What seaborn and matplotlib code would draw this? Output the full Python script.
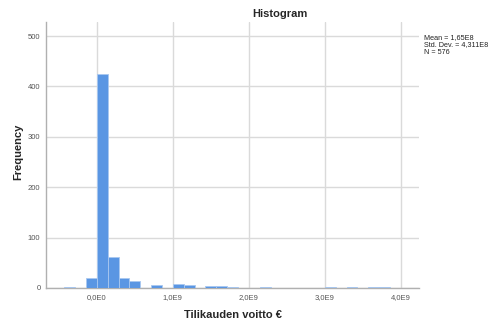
import numpy as np
import pandas as pd
import matplotlib
matplotlib.use("Agg")
import matplotlib.pyplot as plt
import seaborn as sns

# Histogram of annual profit (bin width = 1/7 * 1E9)
bin_index = [-3, -1, 0, 1, 2, 3, 5, 7, 8, 10, 11, 12, 15, 21, 23, 25, 26]
counts = [1, 19, 425, 61, 20, 14, 6, 8, 6, 4, 4, 2, 1, 2, 1, 1, 1]
bin_width = 1e9 / 7
x_ticks = [0, 1e9, 2e9, 3e9, 4e9]
x_tick_labels = ["0,0E0", "1,0E9", "2,0E9", "3,0E9", "4,0E9"]
y_ticks = [0, 100, 200, 300, 400, 500]
stats_text = "Mean = 1,65E8\nStd. Dev. = 4,311E8\nN = 576"

df = pd.DataFrame({
    "center": [(k + 0.5) * bin_width for k in bin_index],
    "count": counts,
})

sns.set_theme(style="white")
plt.rcParams["font.family"] = ["Liberation Sans", "DejaVu Sans"]

fig = plt.figure(figsize=(4.9, 3.24), dpi=100)
ax = fig.add_axes([46 / 490, 1 - 288 / 324, (419 - 46) / 490, (288 - 22) / 324])

sns.histplot(data=df, x="center", weights="count",
             binwidth=bin_width, binrange=(-5 * bin_width, 29 * bin_width),
             ax=ax, color="#5a96e3", alpha=1.0, edgecolor="#a9c8f0",
             linewidth=0.6, zorder=3)

ax.set_xlim(-0.67e9, 4.24e9)
ax.set_ylim(0, 528)
ax.set_xticks(x_ticks)
ax.set_xticklabels(x_tick_labels)
ax.set_yticks(y_ticks)
ax.grid(True, color="#dadada", linewidth=1.0, zorder=0)
ax.set_axisbelow(True)
for side in ["top", "right"]:
    ax.spines[side].set_visible(False)
for side in ["left", "bottom"]:
    ax.spines[side].set_color("#b0b0b0")
    ax.spines[side].set_linewidth(1.0)
ax.tick_params(axis="both", labelsize=5.5, colors="#555555", length=0, pad=4)

ax.set_xlabel("Tilikauden voitto €", fontsize=8, fontweight="bold")
ax.set_ylabel("Frequency", fontsize=8, fontweight="bold")
ax.xaxis.set_label_coords(0.501, -0.102)
ax.yaxis.set_label_coords(-0.075, 0.511)
ax.xaxis.label.set_va("center")
ax.yaxis.label.set_va("center")

fig.text(280 / 490, 1 - 14 / 324, "Histogram", ha="center", va="center",
         fontsize=8, fontweight="bold")
fig.text(424 / 490, 1 - 34 / 324, stats_text, ha="left", va="top",
         fontsize=5.2, linespacing=1.1, color="#222222")

fig.savefig("out.png", dpi=100)
